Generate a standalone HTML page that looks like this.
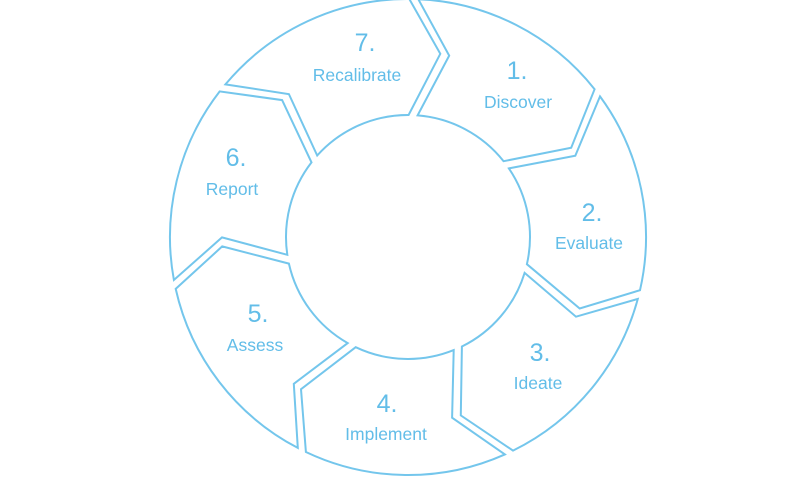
<!DOCTYPE html>
<html><head><meta charset="utf-8"><style>
html,body{margin:0;padding:0;background:#fff;width:800px;height:480px;overflow:hidden}
svg text{font-family:"Liberation Sans",sans-serif;fill:#62bde8;text-anchor:middle}
.n{font-size:25px}.l{font-size:17.5px}
</style></head><body>
<svg id="s" width="800" height="480" viewBox="0 0 800 480">
<g id="g" fill="none" stroke="#74c6ec" stroke-width="2" stroke-linejoin="miter"></g>
<text class="n" x="517" y="79">1.</text><text class="l" x="518" y="108">Discover</text>
<text class="n" x="592" y="221">2.</text><text class="l" x="589" y="249">Evaluate</text>
<text class="n" x="540" y="361">3.</text><text class="l" x="538" y="389">Ideate</text>
<text class="n" x="387" y="412">4.</text><text class="l" x="386" y="440">Implement</text>
<text class="n" x="258" y="322">5.</text><text class="l" x="255" y="351">Assess</text>
<text class="n" x="236" y="166">6.</text><text class="l" x="232" y="195">Report</text>
<text class="n" x="365" y="51">7.</text><text class="l" x="357" y="81">Recalibrate</text>
</svg>
<script>
var cx=408,cy=237,RO=238,RI=122,RT=186,g=4.5;
var B=[9.4,60.7,112,162.9,214.5,266.5,316.8,369.4];
function P(a,r,off){var t=(a*Math.PI/180)+off/r;return [cx+r*Math.sin(t),cy-r*Math.cos(t)];}
function f(p){return p[0].toFixed(1)+","+p[1].toFixed(1);}
var h="";
for(var k=0;k<7;k++){
 var b0=B[k],b1=B[k+1];
 var so=P(b0-8,RO,g),st=P(b0+2,RT,g),si=P(b0-7,RI,g);
 var eo=P(b1-8,RO,-g),et=P(b1+2,RT,-g),ei=P(b1-7,RI,-g);
 var d="M"+f(so)+" A"+RO+","+RO+" 0 0 1 "+f(eo)+" L"+f(et)+" L"+f(ei)+" A"+RI+","+RI+" 0 0 0 "+f(si)+" L"+f(st)+" Z";
 h+='<path d="'+d+'"/>';
}
document.getElementById("g").innerHTML=h;
</script>
</body></html>
